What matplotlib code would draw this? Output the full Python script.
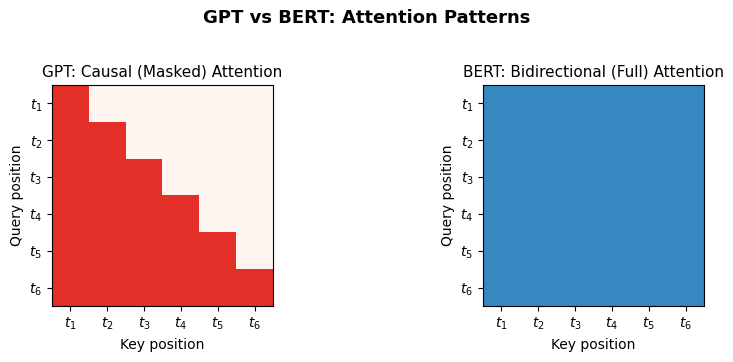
import numpy as np
import matplotlib
matplotlib.use("Agg")
import matplotlib.pyplot as plt

tokens = ["$t_1$", "$t_2$", "$t_3$", "$t_4$", "$t_5$", "$t_6$"]
n = len(tokens)

# attention masks: 1 = can attend, 0 = masked
gpt_mask = np.tril(np.ones((n, n)))
bert_mask = np.ones((n, n))

fig = plt.figure(figsize=(7.33, 3.62), dpi=100)
ax1 = fig.add_axes([0.0709, 0.1547, 0.3015, 0.6105])
ax2 = fig.add_axes([0.659, 0.1547, 0.3015, 0.6105])

panels = [
    (ax1, gpt_mask, "Reds", "GPT: Causal (Masked) Attention"),
    (ax2, bert_mask, "Blues", "BERT: Bidirectional (Full) Attention"),
]

for ax, mask, cmap, title in panels:
    ax.imshow(mask, cmap=cmap, vmin=0, vmax=1.5, aspect="equal")
    ax.set_xticks(range(n))
    ax.set_xticklabels(tokens)
    ax.set_yticks(range(n))
    ax.set_yticklabels(tokens)
    ax.set_xlabel("Key position")
    ax.set_ylabel("Query position")
    ax.set_title(title, fontsize=11)

fig.suptitle("GPT vs BERT: Attention Patterns", fontsize=13, fontweight="bold", y=0.975)
fig.savefig("out.png", dpi=100)
